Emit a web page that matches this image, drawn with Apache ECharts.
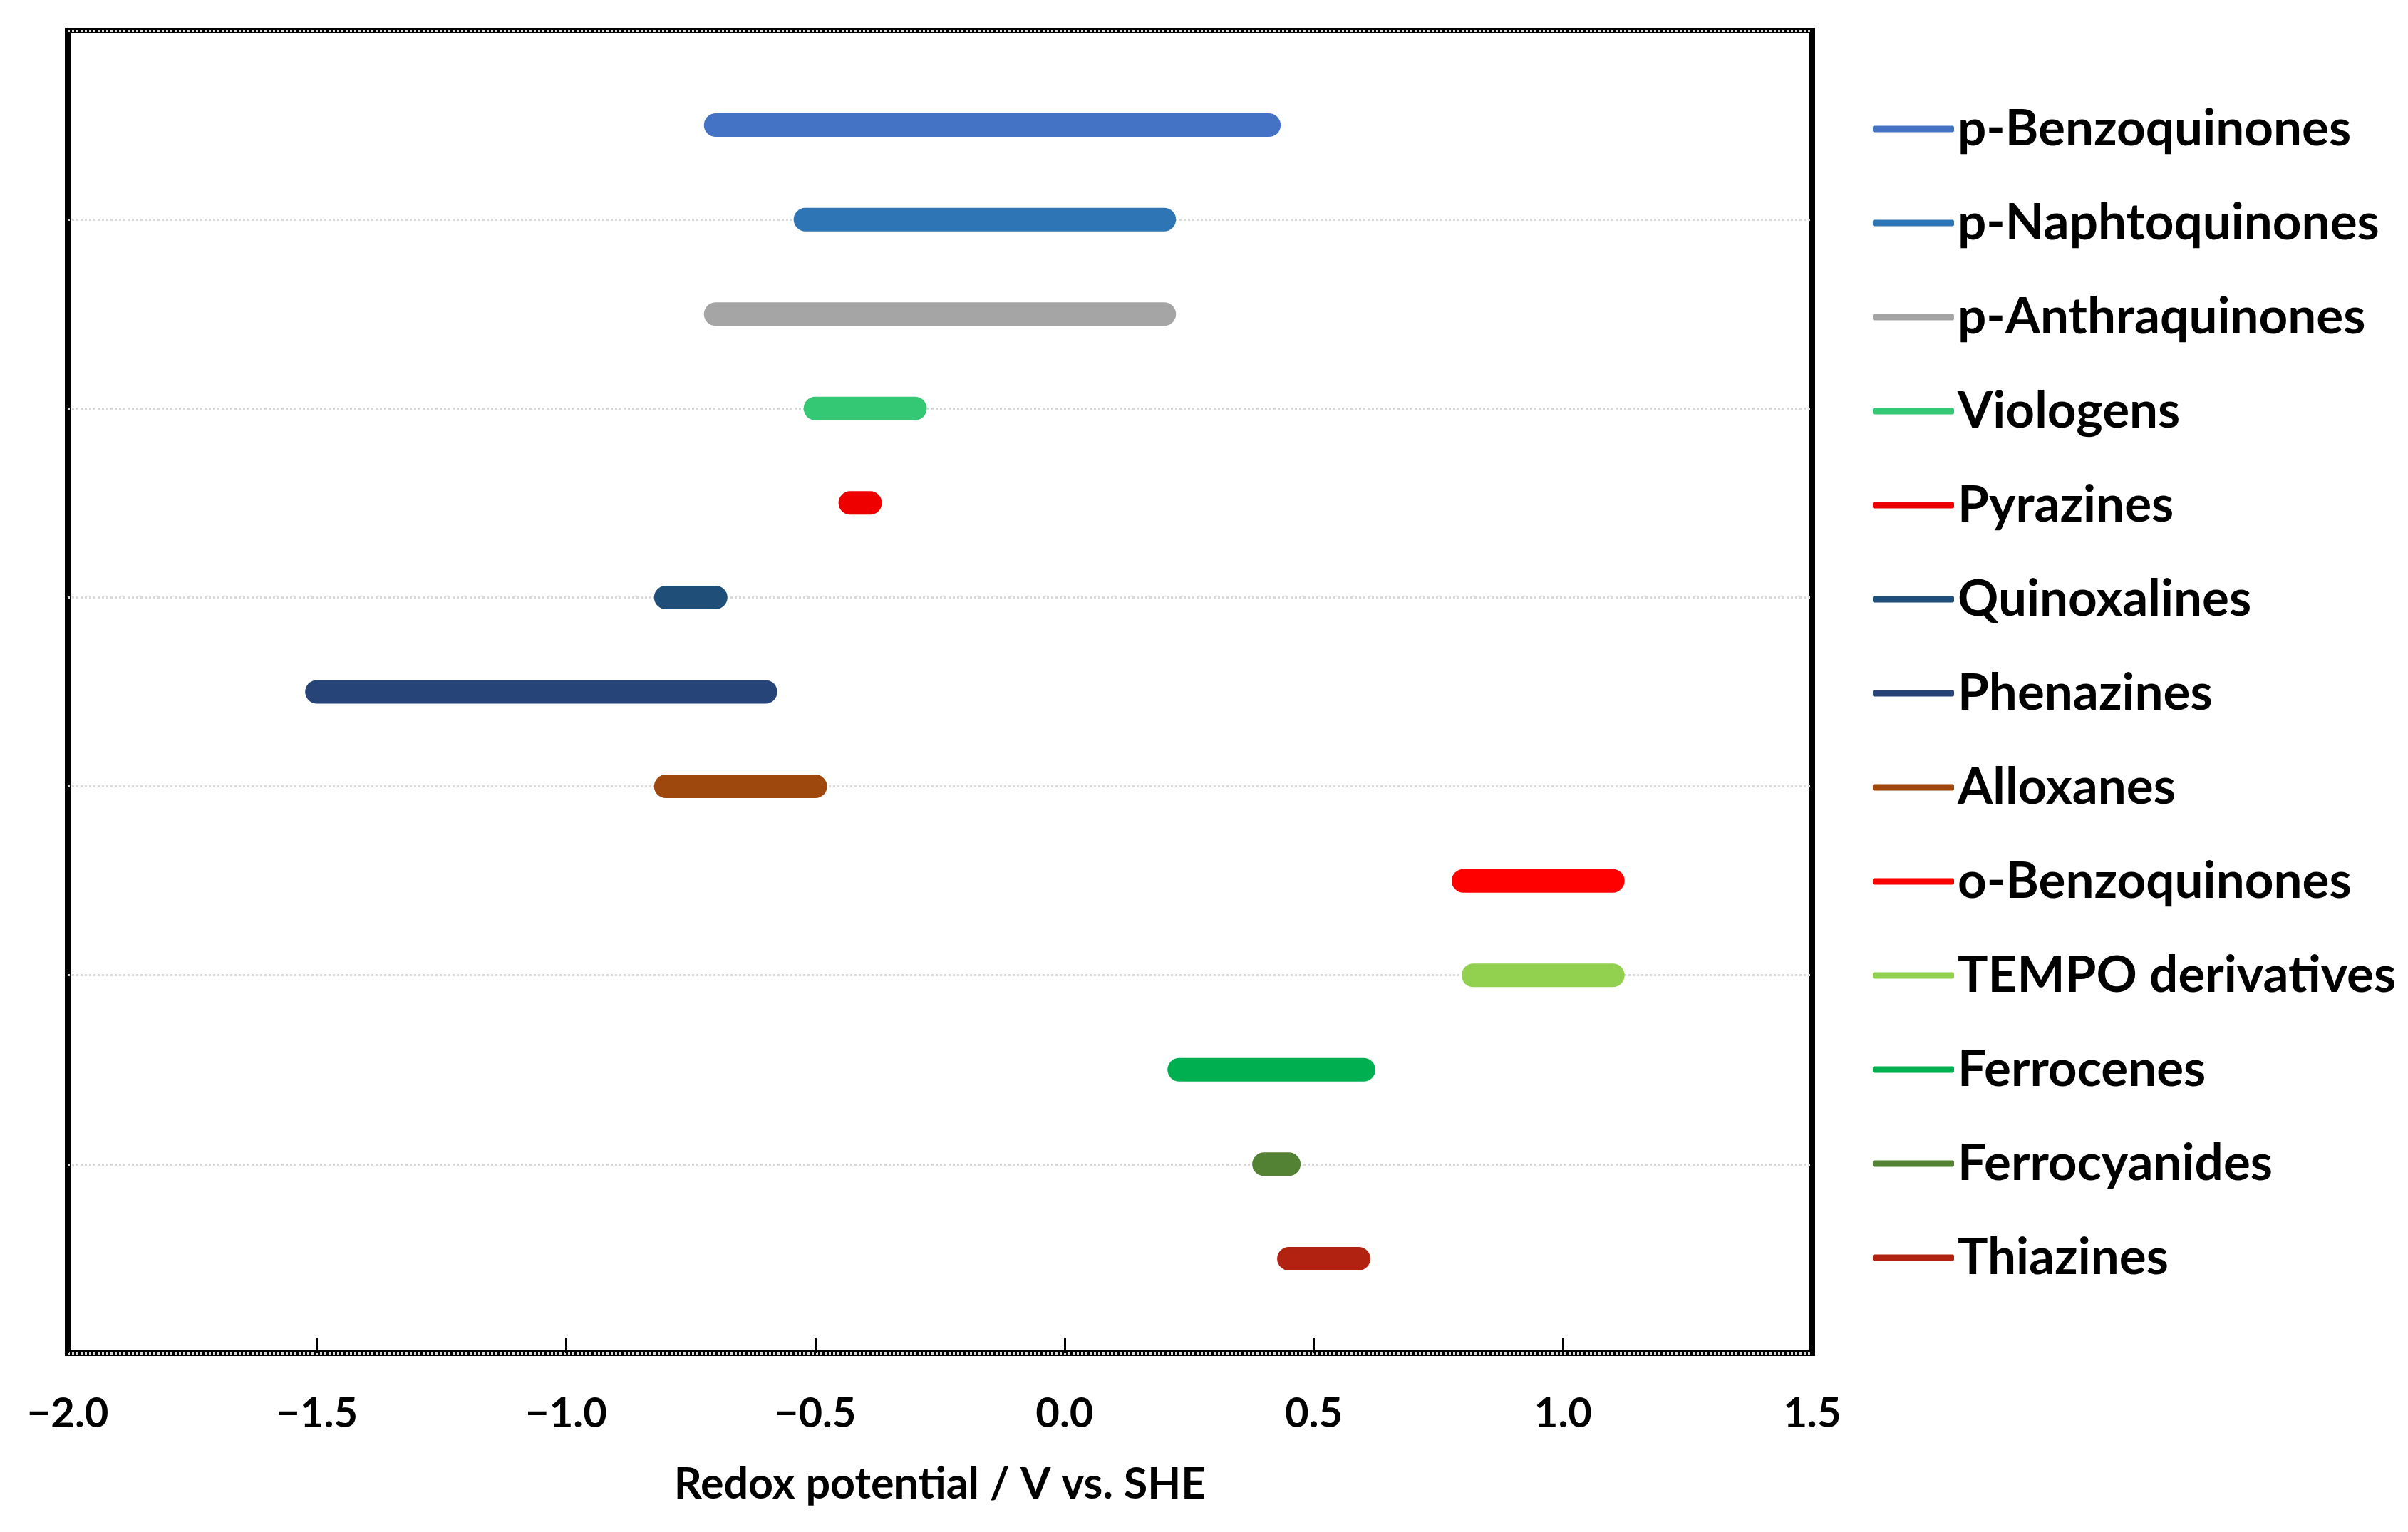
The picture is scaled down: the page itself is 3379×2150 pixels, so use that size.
<!DOCTYPE html>
<html>
<head>
<meta charset="utf-8">
<script src="https://cdn.jsdelivr.net/npm/echarts@6/dist/echarts.min.js"></script>
<style>
html,body{margin:0;padding:0;background:#fff;}
#chart{width:3379px;height:2150px;}
</style>
</head>
<body>
<div id="chart"></div>
<script>
// Categories (top to bottom)
const categories = ['p-Benzoquinones','p-Naphtoquinones','p-Anthraquinones','Viologens','Pyrazines','Quinoxalines','Phenazines','Alloxanes','o-Benzoquinones','TEMPO derivatives','Ferrocenes','Ferrocyanides','Thiazines'];
// Redox potential range (V vs. SHE)
const rangeStart = [-0.70, -0.52, -0.70, -0.50, -0.43, -0.80, -1.50, -0.80, 0.80, 0.82, 0.23, 0.40, 0.45];
const rangeEnd   = [ 0.41,  0.20,  0.20, -0.30, -0.39, -0.70, -0.60, -0.50, 1.10, 1.10, 0.60, 0.45, 0.59];
const colors = ['#4472C4','#2E75B6','#A5A5A5','#35C874','#EE0000','#1F4E79','#264478','#9E480E','#FF0000','#92D050','#00B050','#548235','#B22210'];
const xTicks = [-2.0, -1.5, -1.0, -0.5, 0.0, 0.5, 1.0, 1.5];

const chart = echarts.init(document.getElementById('chart'), null, {renderer:'canvas'});
const n = categories.length;
const series = categories.map((name, i) => ({
  name: name,
  type: 'line',
  symbol: 'none',
  silent: true,
  animation: false,
  color: colors[i],
  itemStyle: {color: colors[i]},
  lineStyle: {width: 33, color: colors[i], cap: 'round'},
  data: [[rangeStart[i], n - i], [rangeEnd[i], n - i]]
}));

chart.setOption({
  backgroundColor: '#ffffff',
  animation: false,
  grid: {left: 95, right: 836, top: 43, bottom: 251, show: true, borderColor: '#000', borderWidth: 8, backgroundColor: 'transparent'},
  xAxis: {
    type: 'value', min: xTicks[0], max: xTicks[xTicks.length-1], interval: 0.5,
    axisLine: {show: false},
    axisTick: {show: true, inside: true, length: 21, lineStyle: {color: '#000', width: 3}},
    splitLine: {show: false},
    axisLabel: {margin: 56, fontFamily: 'Lato', fontWeight: 'bold', fontSize: 58, color: '#000',
      formatter: v => (v < 0 ? '\u2212' + Math.abs(v).toFixed(1) : v.toFixed(1))},
    name: 'Redox potential / V vs. SHE', nameLocation: 'middle', nameGap: 154,
    nameTextStyle: {fontFamily: 'Lato', fontWeight: 'bold', fontSize: 61, color: '#000'}
  },
  yAxis: {
    type: 'value', min: 0, max: 14, interval: 2,
    axisLine: {show: false}, axisTick: {show: false}, axisLabel: {show: false},
    splitLine: {show: true, lineStyle: {color: '#D9D9D9', width: 3, type: [3, 3]}}
  },
  legend: {
    orient: 'vertical', left: 2623, top: 140,
    itemWidth: 114, itemHeight: 9, itemGap: 60,
    icon: 'roundRect',
    textStyle: {fontFamily: 'Lato', fontWeight: 'bold', fontSize: 71, lineHeight: 72, color: '#000', padding: [0,0,0,0]},
    data: categories
  },
  series: series
});
</script>
</body>
</html>
